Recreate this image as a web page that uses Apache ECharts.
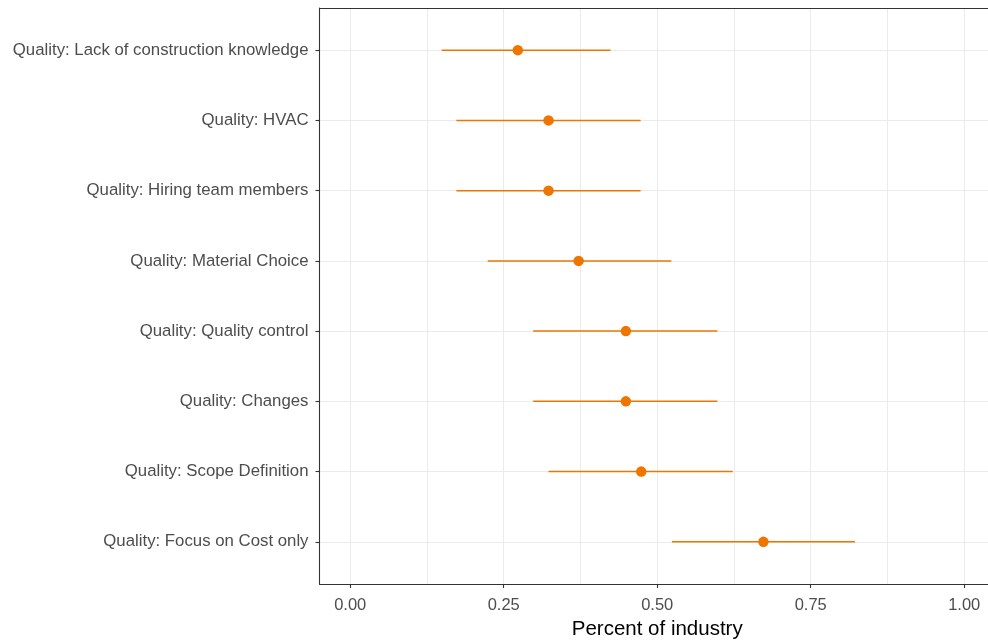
<!DOCTYPE html>
<html>
<head>
<meta charset="utf-8">
<script src="https://cdn.jsdelivr.net/npm/echarts@6/dist/echarts.min.js"></script>
<style>
html,body{margin:0;padding:0;background:#fff;}
#chart{width:988px;height:642px;}
</style>
</head>
<body>
<div id="chart"></div>
<script>
// Categories listed top to bottom
var categories = [
  "Quality: Lack of construction knowledge",
  "Quality: HVAC",
  "Quality: Hiring team members",
  "Quality: Material Choice",
  "Quality: Quality control",
  "Quality: Changes",
  "Quality: Scope Definition",
  "Quality: Focus on Cost only"
];
var pointValues = [0.273, 0.323, 0.323, 0.372, 0.449, 0.449, 0.474, 0.673];
var lowValues   = [0.149, 0.173, 0.173, 0.224, 0.298, 0.298, 0.323, 0.524];
var highValues  = [0.424, 0.473, 0.473, 0.523, 0.598, 0.598, 0.623, 0.822];
var xTicks = [0, 0.25, 0.5, 0.75, 1];
var xMinorTicks = [0.125, 0.375, 0.625, 0.875];
var xTitle = "Percent of industry";

var yPos = categories.map(function(c, i){ return i + 1; });
var pointData = pointValues.map(function(v, i){ return [v, yPos[i]]; });
var barData = lowValues.map(function(v, i){ return [v, highValues[i], yPos[i]]; });

var FONT = '"Liberation Sans", Arial, sans-serif';
var ORANGE = '#EE7600';

var chart = echarts.init(document.getElementById('chart'), null, {renderer: 'canvas'});
chart.setOption({
  animation: false,
  backgroundColor: '#ffffff',
  textStyle: {fontFamily: FONT},
  grid: {left: 319.5, top: 8, width: 675.4, height: 576, containLabel: false, outerBoundsMode: 'none'},
  xAxis: [{
    type: 'value', min: -0.05, max: 1.05, position: 'bottom',
    axisLine: {show: true, onZero: false, lineStyle: {color: '#333333', width: 1.1}},
    axisTick: {show: true, customValues: xTicks, length: 4, lineStyle: {color: '#333333', width: 1.1}},
    axisLabel: {show: true, customValues: xTicks, color: '#4D4D4D', fontSize: 16.5, fontFamily: FONT, margin: 13,
      formatter: function(v){ return v.toFixed(2); }},
    splitLine: {show: true, lineStyle: {color: '#EBEBEB', width: 1}},
    name: xTitle, nameLocation: 'middle', nameGap: 30,
    nameTextStyle: {color: '#000000', fontSize: 20.5, fontFamily: FONT}
  }, {
    type: 'value', min: -0.05, max: 1.05, position: 'top',
    axisLine: {show: true, onZero: false, lineStyle: {color: '#333333', width: 1.1}},
    axisTick: {show: false, customValues: xMinorTicks},
    axisLabel: {show: false, customValues: xMinorTicks},
    splitLine: {show: true, lineStyle: {color: '#EBEBEB', width: 1}}
  }],
  yAxis: [{
    type: 'value', min: 0.4, max: 8.6, inverse: true,
    axisLine: {show: true, onZero: false, lineStyle: {color: '#333333', width: 1.1}},
    axisTick: {show: true, customValues: yPos, length: 4, lineStyle: {color: '#333333', width: 1.1}},
    axisLabel: {show: true, customValues: yPos, color: '#4D4D4D', fontSize: 16.8, fontFamily: FONT, margin: 11,
      formatter: function(v){ return categories[Math.round(v) - 1] || ''; }},
    splitLine: {show: true, lineStyle: {color: '#EBEBEB', width: 1}}
  }],
  series: [{
    type: 'custom',
    xAxisIndex: 0, yAxisIndex: 0,
    data: barData,
    encode: {x: [0, 1], y: 2},
    renderItem: function(params, api){
      var p1 = api.coord([api.value(0), api.value(2)]);
      var p2 = api.coord([api.value(1), api.value(2)]);
      return {
        type: 'line',
        shape: {x1: p1[0], y1: p1[1], x2: p2[0], y2: p2[1]},
        style: {stroke: ORANGE, lineWidth: 1.5}
      };
    },
    z: 3
  }, {
    type: 'scatter',
    xAxisIndex: 0, yAxisIndex: 0,
    data: pointData,
    symbol: 'circle', symbolSize: 10.5,
    itemStyle: {color: ORANGE, opacity: 1},
    z: 4
  }]
});
</script>
</body>
</html>
